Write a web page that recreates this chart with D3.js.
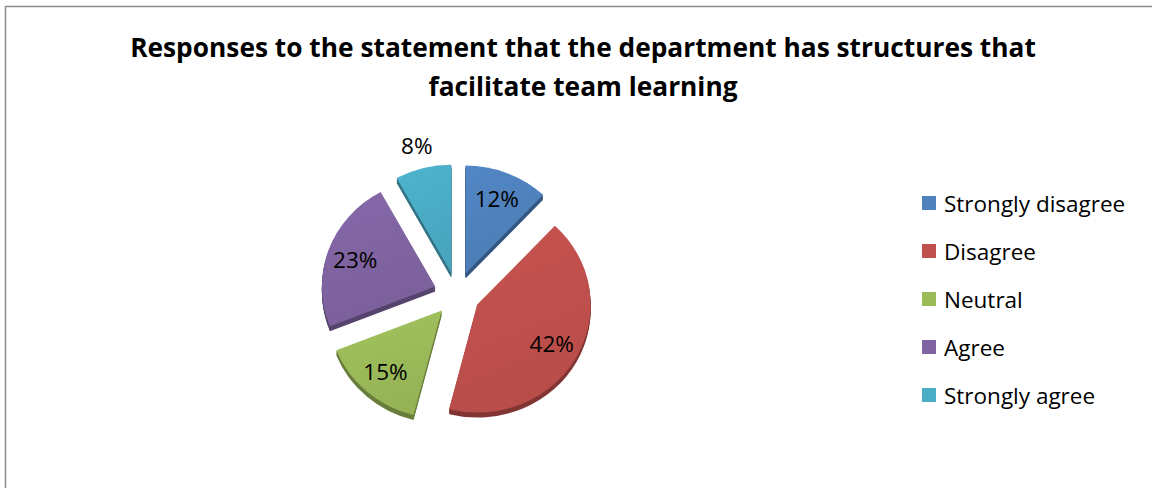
<!DOCTYPE html>
<html>
<head>
<meta charset="utf-8">
<script src="https://cdn.jsdelivr.net/npm/d3@7"></script>
<style>
  html, body { margin: 0; padding: 0; background: #fff; }
  svg { display: block; }
</style>
</head>
<body>
<svg id="chart" width="1152" height="488"></svg>
<script>
// Survey responses
const categories = ["Strongly disagree", "Disagree", "Neutral", "Agree", "Strongly agree"];
const percentages = [12, 42, 15, 23, 8];
const colors = ["#4F81BD", "#C0504D", "#9BBB59", "#8064A2", "#4BACC6"];
const titleLines = [
  "Responses to the statement that the department has structures that",
  "facilitate team learning"
];

const svg = d3.select("#chart");
const fontFamily = "'Open Sans', 'Noto Sans', sans-serif";

// Chart area frame
svg.append("rect")
  .attr("x", 5.5).attr("y", 6.5)
  .attr("width", 1200).attr("height", 600)
  .attr("fill", "#fff")
  .attr("stroke", "#8c8c8c").attr("stroke-width", 1.5);

// Title
const title = svg.append("text")
  .attr("text-anchor", "middle")
  .attr("font-family", fontFamily)
  .attr("font-weight", "bold")
  .attr("font-size", 26.3)
  .attr("fill", "#000");
titleLines.forEach((line, i) => {
  title.append("tspan")
    .attr("x", 583)
    .attr("y", 57 + i * 39)
    .text(line);
});

// Pie geometry (slightly wider than tall, as seen from a low tilt)
const cx = 457, cy = 294, radius = 108, squashX = 1.05, explode = 22, depth = 5;

const pie = d3.pie().sort(null).value(d => d)(percentages);
const arc = d3.arc().innerRadius(0).outerRadius(radius);

const defs = svg.append("defs");
colors.forEach((c, i) => {
  const g = defs.append("linearGradient")
    .attr("id", "face" + i)
    .attr("x1", 0).attr("y1", 0).attr("x2", 0.3).attr("y2", 1);
  g.append("stop").attr("offset", "0%").attr("stop-color", d3.color(c).brighter(0.12));
  g.append("stop").attr("offset", "100%").attr("stop-color", d3.color(c).darker(0.12));
});

const pieG = svg.append("g").attr("transform", `translate(${cx},${cy})`);

const slices = pieG.selectAll("g.slice")
  .data(pie)
  .join("g")
  .attr("class", "slice")
  .attr("transform", d => {
    const mid = (d.startAngle + d.endAngle) / 2;
    return `translate(${explode * squashX * Math.sin(mid)},${-explode * Math.cos(mid)})`;
  });

// Extruded side of each slice
slices.each(function(d, i) {
  const g = d3.select(this);
  for (let k = depth; k >= 1; k--) {
    g.append("path")
      .attr("d", arc(d))
      .attr("transform", `translate(0,${k}) scale(${squashX},1)`)
      .attr("fill", d3.color(colors[i]).darker(1.1));
  }
});

// Top faces
slices.append("path")
  .attr("d", arc)
  .attr("transform", `scale(${squashX},1)`)
  .attr("fill", (d, i) => `url(#face${i})`);

// Percentage labels
slices.append("text")
  .attr("transform", d => {
    const mid = (d.startAngle + d.endAngle) / 2;
    const r = d.data < 10 ? radius * 1.22 : radius * 0.75;
    return `translate(${r * squashX * Math.sin(mid)},${-r * Math.cos(mid)})`;
  })
  .attr("text-anchor", "middle")
  .attr("dominant-baseline", "central")
  .attr("font-family", fontFamily)
  .attr("font-size", 22.5)
  .attr("fill", "#000")
  .text(d => d.data + "%");

// Legend
const legend = svg.append("g").attr("transform", "translate(922,203)");
const rows = legend.selectAll("g")
  .data(categories)
  .join("g")
  .attr("transform", (d, i) => `translate(0,${i * 48})`);
rows.append("rect")
  .attr("x", 0).attr("y", -7)
  .attr("width", 14).attr("height", 14)
  .attr("fill", (d, i) => colors[i]);
rows.append("text")
  .attr("x", 22).attr("y", 0)
  .attr("dominant-baseline", "central")
  .attr("font-family", fontFamily)
  .attr("font-size", 22.5)
  .attr("fill", "#000")
  .text(d => d);
</script>
</body>
</html>
